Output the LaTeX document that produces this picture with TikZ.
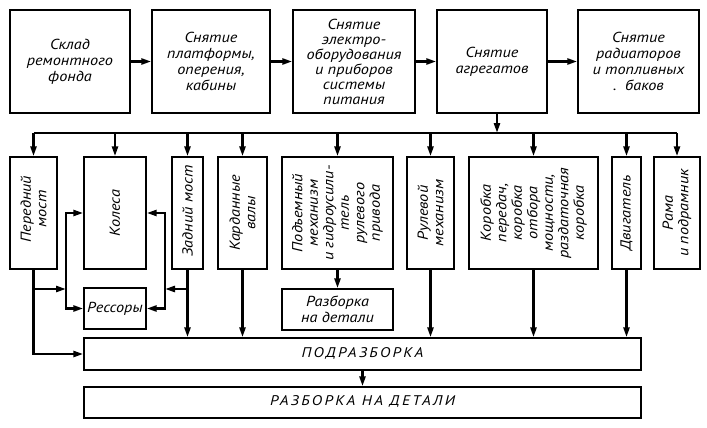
\documentclass[tikz,border=0pt]{standalone}
\usepackage{fontspec}
\setmainfont{PT Sans}[FakeStretch=1.12]
\usetikzlibrary{arrows.meta,calc}
\begin{document}
\begin{tikzpicture}[x=1pt,y=-1pt,
  box/.style={draw, line width=1.4pt, inner sep=0pt, font=\fontsize{14.5}{16}\selectfont\itshape, align=center},
  vtxt/.style={font=\fontsize{14.5}{15.5}\selectfont\itshape, align=center, inner sep=0pt, rotate=90},
  conn/.style={line width=2.4pt},
  arr/.style={line width=2.4pt, -{Triangle[length=10pt,width=6pt]}},
  wide/.style={font=\fontsize{14}{15}\selectfont\itshape\addfontfeature{LetterSpace=17}}
]
\useasboundingbox[fill=white] (0,0) rectangle (707,428);
% top row
\node[box, minimum width=120, minimum height=103] (a1) at (70,61.5) {Склад\\ремонтного\\фонда};
\node[box, minimum width=118, minimum height=103] (a2) at (211,61.5) {Снятие\\платформы,\\оперения,\\кабины};
\node[box, minimum width=122, minimum height=103, font=\fontsize{14.5}{15}\selectfont\itshape] (a3) at (354,61.5) {Снятие\\электро-\\оборудования\\и приборов\\системы\\питания};
\node[box, minimum width=110, minimum height=103] (a4) at (492,61.5) {Снятие\\агрегатов};
\node[box, minimum width=121, minimum height=103] (a5) at (638.5,61.5) {Снятие\\радиаторов\\и топливных\\.\ \ баков};
% middle row boxes
\node[box, minimum width=47, minimum height=112] (m1) at (33.5,213) {};
\node[box, minimum width=62, minimum height=112] (m2) at (115,213) {};
\node[box, minimum width=31, minimum height=112] (m3) at (187.5,213) {};
\node[box, minimum width=49, minimum height=112] (m4) at (242.5,213) {};
\node[box, minimum width=111, minimum height=112] (m5) at (337.5,213) {};
\node[box, minimum width=47, minimum height=112] (m6) at (430.5,213) {};
\node[box, minimum width=129, minimum height=112] (m7) at (533.5,213) {};
\node[box, minimum width=29, minimum height=112] (m8) at (626.5,213) {};
\node[box, minimum width=46, minimum height=112] (m9) at (677,213) {};
\node[vtxt] (t1) at ([yshift=4]m1.center) {Передний\\мост};
\node[vtxt] (t2) at (m2.center) {Колеса};
\node[vtxt] (t3) at ([yshift=2]m3.center) {Задний мост};
\node[vtxt] (t4) at (m4.center) {Карданные\\валы};
\node[vtxt] (t5) at (m5.center) {Подъемный\\механизм\\и гидроусили-\\тель\\рулевого\\привода};
\node[vtxt] (t6) at (m6.center) {Рулевой\\механизм};
\node[vtxt] (t7) at (m7.center) {Коробка\\передач,\\коробка\\отбора\\мощности,\\раздаточная\\коробка};
\node[vtxt] (t8) at (m8.center) {Двигатель};
\node[vtxt] (t9) at (m9.center) {Рама\\и подрамник};
% lower boxes
\node[box, minimum width=62, minimum height=41] (rs) at (115,308.5) {Рессоры};
\node[box, minimum width=111, minimum height=41] (r1) at (337.5,309.5) {Разборка\\на детали};
\node[box, minimum width=557, minimum height=32] (p1) at (362.5,354) {};
\node[box, minimum width=557, minimum height=31] (p2) at (362.5,402.5) {};
\node[wide] (pt1) at ([yshift=1]p1.center) {ПОДРАЗБОРКА};
\node[wide] (pt2) at ([yshift=1]p2.center) {РАЗБОРКА НА ДЕТАЛИ};
% top arrows
\draw[arr] (a1.east) -- (a2.west);
\draw[arr] (a2.east) -- (a3.west);
\draw[arr] (a3.east) -- (a4.west);
\draw[arr] (a4.east) -- (a5.west);
% bus
\coordinate (bus) at (0,133);
\draw[arr] ([xshift=5]a4.south) -- ([xshift=5]a4.south |- bus);
\draw[conn] (m1.north |- bus) -- (m9.north |- bus);
\foreach \m in {m1,m2,m3,m4,m5,m6,m7,m8,m9}
  \draw[arr] (\m.north |- bus) -- (\m.north);
% left side
\coordinate (kL) at (66,289);
\coordinate (kR) at (165,289);
\draw[arr] (m1.south) |- (p1.west);
\draw[arr] (m1.south |- kL) -- (kL);
\draw[arr] (kL |- rs.west) -- (kL |- m2.west) -- (m2.west);
\draw[arr] (kL |- m2.west) -- (kL |- rs.west) -- (rs.west);
% right of wheels
\draw[arr] (m3.south) -- (m3.south |- p1.north);
\draw[arr] (m3.south |- kR) -- (kR);
\draw[arr] (kR |- rs.east) -- (kR |- m2.east) -- (m2.east);
\draw[arr] (kR |- m2.east) -- (kR |- rs.east) -- (rs.east);
% others
\foreach \m in {m4,m6,m7,m8}
  \draw[arr] (\m.south) -- (\m.south |- p1.north);
\draw[arr] (m5.south) -- (r1.north);
\draw[arr] (p1.south) -- (p2.north);
\end{tikzpicture}
\end{document}
